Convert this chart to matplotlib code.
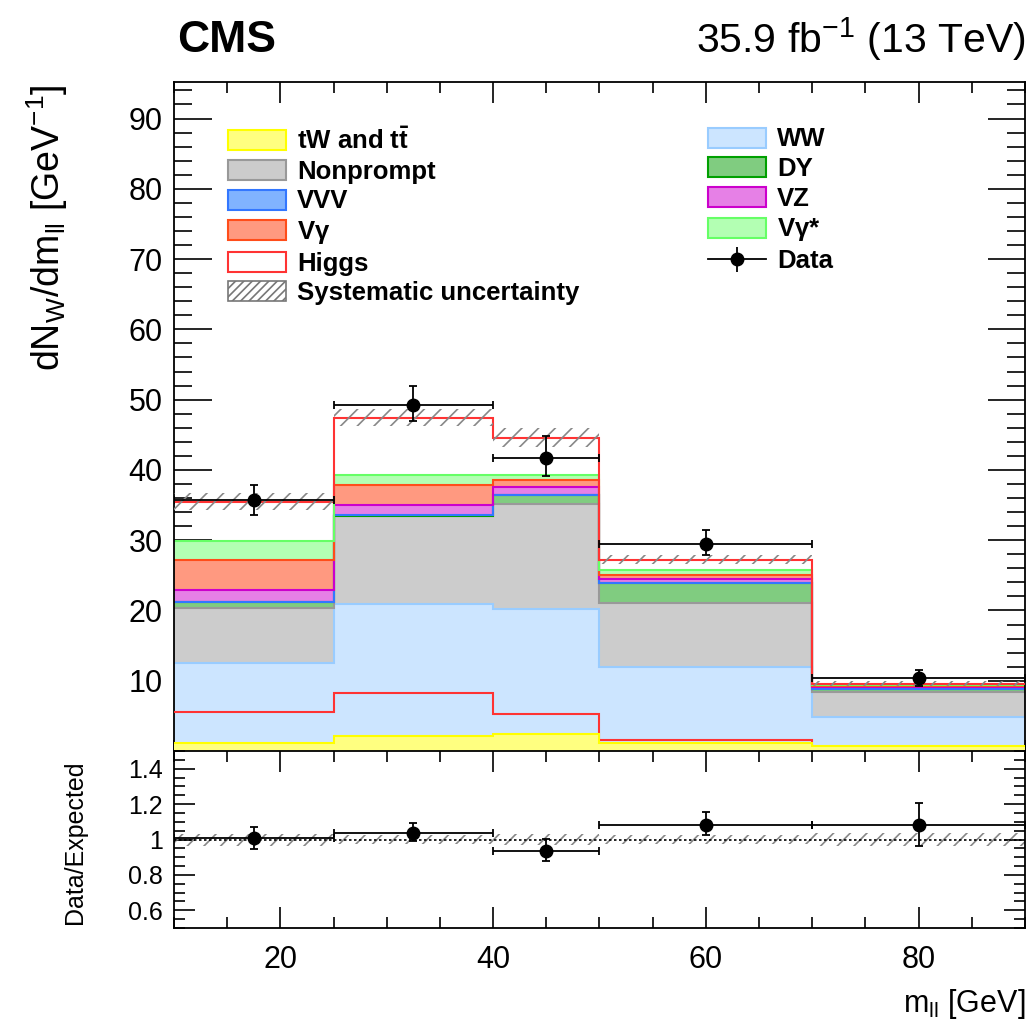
import numpy as np
import matplotlib
matplotlib.use("Agg")
import matplotlib.pyplot as plt
from matplotlib.patches import Patch
from matplotlib.lines import Line2D
from matplotlib.ticker import MultipleLocator, FormatStrFormatter

plt.rcParams['font.family'] = ['Liberation Sans', 'DejaVu Sans']
plt.rcParams['mathtext.default'] = 'regular'
plt.rcParams['hatch.linewidth'] = 1.2

# bin edges in m_ll [GeV]
edges = np.array([10, 25, 40, 50, 70, 90])

# per-bin yields (dN/dm_ll), stacked bottom to top
top_tt = [1.2, 2.2, 2.4, 1.2, 0.75]
ww = [11.3, 18.7, 17.8, 10.7, 4.15]
nonprompt = [7.8, 12.5, 15.0, 9.2, 3.55]
dy = [0.9, 0.1, 1.2, 2.8, 0.35]
vvv = [0.05, 0.05, 0.05, 0.05, 0.03]
vz = [1.6, 1.4, 1.15, 0.55, 0.3]
vgamma = [4.3, 2.9, 1.0, 0.6, 0.1]
vgamma_star = [2.8, 1.4, 0.7, 0.6, 0.1]
higgs = [5.5, 8.2, 5.3, 1.5, 0.25]
syst = [1.2, 1.2, 1.35, 0.65, 0.35]

data_x = [17.5, 32.5, 45, 60, 80]
data_y = [35.7, 49.3, 41.7, 29.5, 10.35]
data_lo = [2.1, 2.3, 2.6, 1.6, 1.1]
data_hi = [2.2, 2.7, 3.1, 1.9, 1.2]

layers = [
    (top_tt, '#ffff80', '#ffff00', r'tW and t$\bar{t}$'),
    (ww, '#cce5ff', '#99ccff', 'WW'),
    (nonprompt, '#cccccc', '#999999', 'Nonprompt'),
    (dy, '#80cc80', '#00a000', 'DY'),
    (vvv, '#80b3ff', '#3377ff', 'VVV'),
    (vz, '#e680e6', '#cc00cc', 'VZ'),
    (vgamma, '#ff9980', '#ff4d1a', r'V$\gamma$'),
    (vgamma_star, '#b3ffb3', '#66ff66', r'V$\gamma$*'),
]

fig = plt.figure(figsize=(10.33, 10.25), dpi=100)
ax = fig.add_axes([0.1684, 0.2673, 0.8238, 0.6527])
ax2 = fig.add_axes([0.1684, 0.0946, 0.8238, 0.1727], sharex=ax)

bottom = np.zeros(len(edges) - 1)
handles = {}
for i, (vals, fc, ec, lab) in enumerate(layers):
    top = bottom + np.array(vals)
    z = 3.5 if i == 0 else 2  # top quark drawn over the Higgs-only line
    ax.stairs(top, edges, baseline=bottom, fill=True, facecolor=fc, lw=0, zorder=z)
    ax.stairs(top, edges, baseline=None, color=ec, lw=1.5, zorder=z + 0.1)
    handles[lab] = Patch(facecolor=fc, edgecolor=ec, lw=1.5, label=lab)
    bottom = top

total = bottom + np.array(higgs)
ax.stairs(total, edges, baseline=None, color='#ff3333', lw=1.5, zorder=3)
ax.stairs(higgs, edges, baseline=None, color='#ff3333', lw=1.5, zorder=3)
handles['Higgs'] = Patch(facecolor='white', edgecolor='#ff3333', lw=1.5, label='Higgs')

syst = np.array(syst)
ax.stairs(total + syst, edges, baseline=total - syst, fill=True, facecolor='none',
          edgecolor='#888888', hatch='//', lw=0, zorder=4)
handles['Systematic uncertainty'] = Patch(facecolor='white', edgecolor='#777777', hatch='////',
                                          lw=1.2, label='Systematic uncertainty')

xerr = np.diff(edges) / 2
ax.errorbar(data_x, data_y, xerr=xerr, yerr=[data_lo, data_hi], fmt='o', color='black',
            ms=9, capsize=3, elinewidth=1.3, capthick=1.3, zorder=6)
handles['Data'] = (Line2D([], [], color='black', lw=1.3),
                   Line2D([], [], color='black', marker='|', ms=18, mew=1.3, lw=0),
                   Line2D([], [], color='black', marker='o', ms=9, lw=0))

ax.set_xlim(10, 90)
ax.set_ylim(0, 95.2)

leg_font = dict(size=18.5, weight='bold')
left = ['tW and t$\\bar{t}$', 'Nonprompt', 'VVV', r'V$\gamma$', 'Higgs', 'Systematic uncertainty']
right = ['WW', 'DY', 'VZ', r'V$\gamma$*', 'Data']
kw = dict(frameon=False, prop=leg_font, handlelength=2.26, handleheight=0.82,
          labelspacing=0.22, handletextpad=0.45, borderaxespad=0, borderpad=0)
leg1 = ax.legend([handles[k] for k in left], left, loc='upper left',
                 bbox_to_anchor=(0.063, 0.932), **kw)
ax.add_artist(leg1)
ax.legend([handles[k] for k in right], right, loc='upper left',
          bbox_to_anchor=(0.627, 0.932), **kw)

# ratio panel
ratio = np.array(data_y) / total
r_lo = np.array(data_lo) / total
r_hi = np.array(data_hi) / total
rel = syst / total
ax2.stairs(1 + rel, edges, baseline=1 - rel, fill=True, facecolor='none',
           edgecolor='#888888', hatch='//', lw=0, zorder=2)
ax2.axhline(1, color='black', lw=1.2, ls=(0, (1.5, 1.5)), zorder=3)
ax2.errorbar(data_x, ratio, xerr=xerr, yerr=[r_lo, r_hi], fmt='o', color='black',
             ms=9, capsize=3, elinewidth=1.3, capthick=1.3, zorder=6)
ax2.set_ylim(0.5, 1.5)

for a in (ax, ax2):
    a.xaxis.set_major_locator(MultipleLocator(20))
    a.xaxis.set_minor_locator(MultipleLocator(5))
    a.tick_params(which='both', direction='in', top=True, right=True, width=1.2)
    for s in a.spines.values():
        s.set_linewidth(1.3)
ax.yaxis.set_major_locator(MultipleLocator(10))
ax.yaxis.set_minor_locator(MultipleLocator(2))
ax.tick_params(which='major', length=27, labelsize=22, pad=8)
ax.tick_params(axis='x', which='major', length=15)
ax.tick_params(which='minor', length=13)
ax.tick_params(axis='x', which='minor', length=8)
ax.tick_params(axis='x', labelbottom=False)
ax.set_yticks(np.arange(10, 91, 10))
ax.set_yticklabels([str(v) for v in range(10, 91, 10)])

ax2.yaxis.set_major_locator(MultipleLocator(0.2))
ax2.yaxis.set_minor_locator(MultipleLocator(0.05))
ax2.yaxis.set_major_formatter(FormatStrFormatter('%g'))
ax2.set_yticks([0.6, 0.8, 1.0, 1.2, 1.4])
ax2.tick_params(axis='y', which='major', length=15, labelsize=18, pad=8)
ax2.tick_params(axis='y', which='minor', length=8)
ax2.tick_params(axis='x', which='major', length=15, labelsize=22, pad=12)
ax2.tick_params(axis='x', which='minor', length=8)

fig.text(0.171, 0.949, 'CMS', fontsize=32, fontweight='bold', ha='left', va='baseline')
fig.text(0.993, 0.949, r'35.9 fb$^{-1}$ (13 TeV)', fontsize=29.5, ha='right', va='baseline')
fig.text(0.046, 1 - 84 / 1025, r'dN$_{W}$/dm$_{ll}$ [GeV$^{-1}$]', fontsize=27,
         rotation=90, ha='center', va='top')
fig.text(0.073, 1 - 842 / 1025, 'Data/Expected', fontsize=18, rotation=90, ha='center', va='center')
fig.text(0.993, 1 - 1012 / 1025, r'm$_{ll}$ [GeV]', fontsize=22, ha='right', va='baseline')

fig.savefig('out.png', dpi=100)
